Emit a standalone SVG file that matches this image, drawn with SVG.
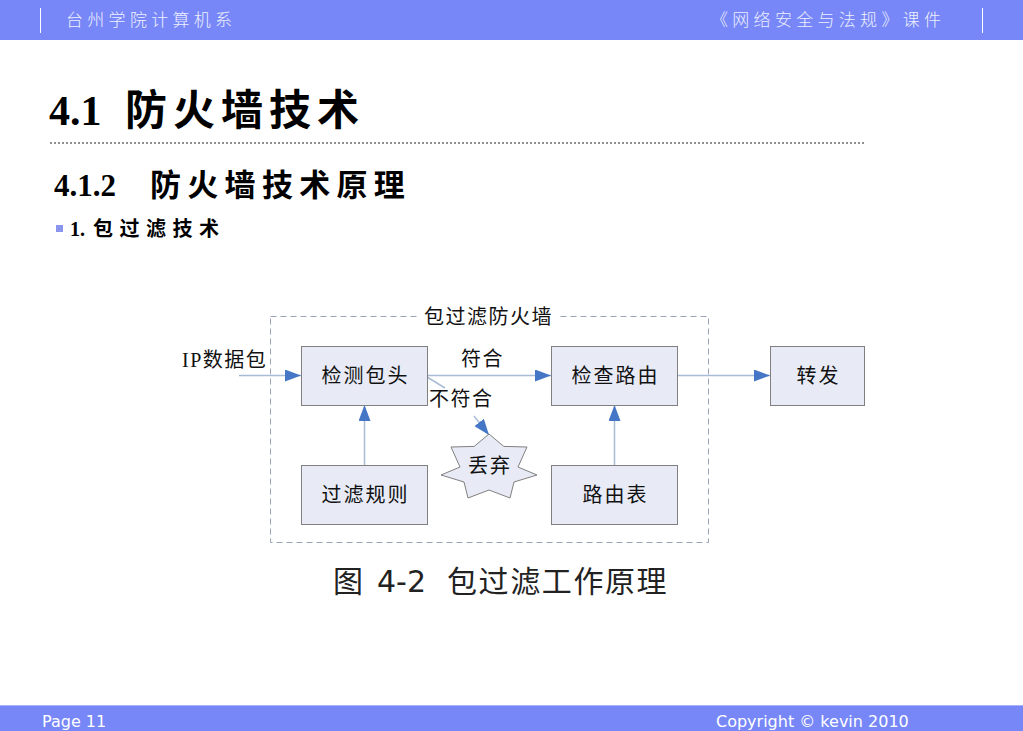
<svg xmlns="http://www.w3.org/2000/svg" width="1023" height="731" viewBox="0 0 1023 731">
<defs>
<style>
.bar{fill:#7787f7}
.hdr{font-family:"Noto Sans CJK SC","Liberation Sans",sans-serif;font-size:17px;fill:#eef0ff;letter-spacing:4.3px;font-weight:300}
.ftr{font-family:"DejaVu Sans","Liberation Sans",sans-serif;font-size:16px;fill:#ffffff}
.h1{font-family:"Liberation Serif","Noto Sans CJK SC",serif;font-weight:bold;fill:#000}
.box{fill:#e8ebf6;stroke:#808080;stroke-width:1}
.bt{font-family:"Liberation Serif","Noto Sans CJK SC",serif;font-size:20px;fill:#111;text-anchor:middle;letter-spacing:2px}
.lt{font-family:"Liberation Serif","Noto Sans CJK SC",serif;font-size:20px;fill:#111;letter-spacing:1.5px}
.con{stroke:#a9bcd6;stroke-width:1.5;fill:none}
</style>
<marker id="ah" markerWidth="16" markerHeight="12" refX="16" refY="6" orient="auto" markerUnits="userSpaceOnUse">
<path d="M0,0 L16,6 L0,12 Z" fill="#4676c6"/>
</marker>
</defs>
<rect width="1023" height="731" fill="#ffffff"/>
<g id="header">
<rect class="bar" x="0" y="0" width="1023" height="40"/>
<line x1="40.5" y1="8" x2="40.5" y2="33" stroke="#ffffff" stroke-width="1"/>
<line x1="982.5" y1="8" x2="982.5" y2="33" stroke="#ffffff" stroke-width="1"/>
<text class="hdr" x="66" y="26">台州学院计算机系</text>
<text class="hdr" x="711" y="26">《网络安全与法规》课件</text>
</g>
<g id="titles">
<text class="h1" x="49" y="125" font-size="42">4.1 <tspan x="125" letter-spacing="6">防火墙技术</tspan></text>
<line x1="50" y1="143" x2="866" y2="143" stroke="#909090" stroke-width="2" stroke-dasharray="2,2"/>
<text class="h1" x="54" y="196" font-size="31">4.1.2 <tspan x="150" letter-spacing="6.3">防火墙技术原理</tspan></text>
<rect x="56" y="225" width="7" height="7" fill="#8a96ee"/>
<text class="h1" x="70" y="236" font-size="20">1.<tspan x="93" letter-spacing="6.5">包过滤技术</tspan></text>
</g>
<g id="firewall">
<rect x="270.5" y="316.5" width="438" height="226" fill="none" stroke="#9aa4b8" stroke-width="1" stroke-dasharray="6,4"/>
<rect x="420" y="306" width="138" height="20" fill="#ffffff"/>
<text class="lt" x="424" y="324">包过滤防火墙</text>
</g>
<g id="connectors">
<line class="con" x1="239" y1="375.5" x2="301" y2="375.5" marker-end="url(#ah)"/>
<line class="con" x1="427" y1="375.5" x2="551" y2="375.5" marker-end="url(#ah)"/>
<line class="con" x1="677" y1="375.5" x2="770" y2="375.5" marker-end="url(#ah)"/>
<line class="con" x1="364.5" y1="465" x2="364.5" y2="405" marker-end="url(#ah)"/>
<line class="con" x1="614.5" y1="465" x2="614.5" y2="405" marker-end="url(#ah)"/>
<line class="con" x1="427" y1="377" x2="445" y2="388"/>
<line class="con" x1="474" y1="416" x2="489" y2="435" marker-end="url(#ah)"/>
</g>
<g id="labels">
<text class="lt" x="182" y="367">IP数据包</text>
<text class="lt" x="461" y="366">符合</text>
<text class="lt" x="429" y="406">不符合</text>
</g>
<g id="n-detect">
<rect class="box" x="301.5" y="346.5" width="126" height="59"/>
<text class="bt" x="365.5" y="383">检测包头</text>
</g>
<g id="n-route">
<rect class="box" x="551.5" y="346.5" width="126" height="59"/>
<text class="bt" x="615.5" y="383">检查路由</text>
</g>
<g id="n-forward">
<rect class="box" x="770.5" y="346.5" width="94" height="59"/>
<text class="bt" x="818.5" y="383">转发</text>
</g>
<g id="n-rules">
<rect class="box" x="301.5" y="465.5" width="126" height="59"/>
<text class="bt" x="365.5" y="502">过滤规则</text>
</g>
<g id="n-table">
<rect class="box" x="551.5" y="465.5" width="126" height="59"/>
<text class="bt" x="615.5" y="502">路由表</text>
</g>
<g id="n-drop">
<polygon class="box" points="489,434 503.8,446.4 527,447 518,467 537,475 514,482 510,498 489,490 468,498 464,482 441,475 460,467 451,447 474.2,446.4"/>
<text class="bt" x="490" y="473">丢弃</text>
</g>
<g id="caption">
<text x="333" y="592" font-family="'DejaVu Sans','Noto Sans CJK SC',sans-serif" font-size="30" fill="#222">图 <tspan x="377">4-2</tspan> <tspan x="447" letter-spacing="1.6">包过滤工作原理</tspan></text>
</g>
<g id="footer">
<rect class="bar" x="0" y="705" width="1023" height="26"/>
<line x1="0" y1="705.5" x2="1023" y2="705.5" stroke="#a8b2fa" stroke-width="1"/>
<text class="ftr" x="42" y="727">Page 11</text>
<text class="ftr" x="716" y="727">Copyright © kevin 2010</text>
</g>
</svg>
